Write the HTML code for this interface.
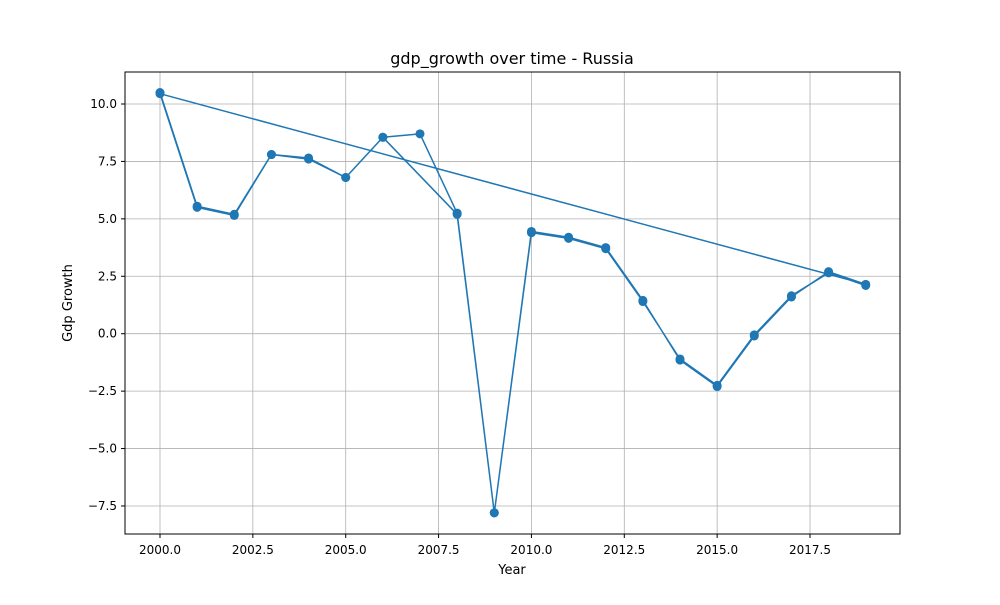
<!DOCTYPE html>
<html><head><meta charset="utf-8"><style>
body{margin:0;background:#fff;font-family:"Liberation Sans","DejaVu Sans",sans-serif}
svg text{font-family:"DejaVu Sans","Liberation Sans",sans-serif;fill:#000}
</style></head><body>
<svg id="chart" width="1000" height="600">
<rect x="0" y="0" width="1000" height="600" fill="#fff"/>
<g id="grid"></g>
<g id="series"></g>
<rect x="125" y="72" width="775" height="462" fill="none" stroke="#000" stroke-width="1"/>
<g id="xt"></g><g id="yt"></g>
<text x="512" y="64" font-size="16" text-anchor="middle">gdp_growth over time - Russia</text>
<text x="512" y="574" font-size="13" text-anchor="middle">Year</text>
<text x="72" y="303" font-size="13" text-anchor="middle" transform="rotate(-90 72 303)">Gdp Growth</text>
</svg>
<script>
const years = [2000,2001,2002,2003,2004,2005,2006,2007,2008,2009,2010,2011,2012,2013,2014,2015,2016,2017,2018,2019,
               2000,2001,2002,2003,2004,2005,2006,2008,2009,2010,2011,2012,2013,2014,2015,2016,2017,2018,2019];
const growth = [10.5,5.55,5.2,7.8,7.65,6.8,8.55,8.7,5.25,-7.8,4.45,4.2,3.75,1.45,-1.15,-2.3,-0.1,1.6,2.7,2.15,
                10.45,5.5,5.15,7.8,7.6,6.8,8.55,5.2,-7.8,4.4,4.15,3.7,1.4,-1.1,-2.25,-0.05,1.65,2.65,2.1];
const xTicks = [2000,2002.5,2005,2007.5,2010,2012.5,2015,2017.5];
const yTicks = [-7.5,-5,-2.5,0,2.5,5,7.5,10];
const NS="http://www.w3.org/2000/svg";
const xs = v => 160 + (v-2000)*37.143;
const ys = v => 333.7 - v*22.97;
const grid=document.getElementById('grid'), xt=document.getElementById('xt'), yt=document.getElementById('yt'), ser=document.getElementById('series');
function mk(tag,attrs,parent){const e=document.createElementNS(NS,tag);for(const k in attrs)e.setAttribute(k,attrs[k]);parent.appendChild(e);return e;}
xTicks.forEach(t=>{
  const x=xs(t);
  const g=mk('line',{x1:x,x2:x,y1:72,y2:534,stroke:'#b0b0b0','stroke-width':0.8},grid);
  
  
  mk('line',{x1:x,x2:x,y1:534,y2:538,stroke:'#000'},xt);
  const tx=mk('text',{x:x,y:554,'font-size':12,'text-anchor':'middle'},xt);
  tx.textContent=t.toFixed(1);
  
  
});
yTicks.forEach(t=>{
  const y=ys(t);
  const g=mk('line',{x1:125,x2:900,y1:y,y2:y,stroke:'#b0b0b0','stroke-width':0.8},grid);
  
  
  mk('line',{x1:121,x2:125,y1:y,y2:y,stroke:'#000'},yt);
  const tx=mk('text',{x:117,y:y+4,'font-size':12,'text-anchor':'end'},yt);
  tx.textContent=t.toFixed(1).replace('-','\u2212');
  
  
});
const pts=years.map((y,i)=>xs(y).toFixed(1)+','+ys(growth[i]).toFixed(1)).join(' ');
const pl=mk('polyline',{points:pts,fill:'none',stroke:'#1f77b4','stroke-width':1.5,'stroke-linejoin':'round'},ser);


years.forEach((y,i)=>{
  const c=mk('circle',{cx:xs(y),cy:ys(growth[i]),r:4.5,fill:'#1f77b4'},ser);
  
  
});
</script>
</body></html>
